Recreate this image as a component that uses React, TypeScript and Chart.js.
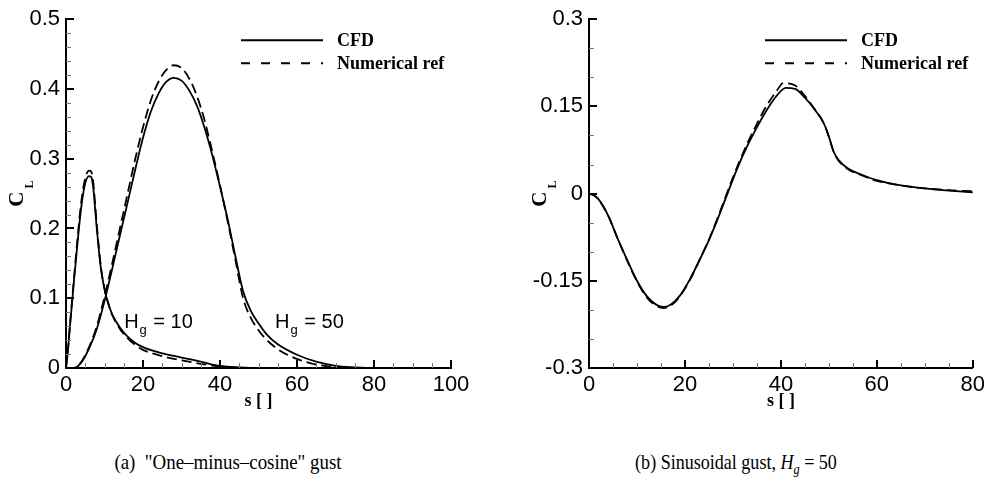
import React, { useEffect, useRef } from "react";
import { Chart, registerables } from "chart.js";

Chart.register(...registerables);

// ---------- Panel (a): "One-minus-cosine" gust ----------
const sH10Cfd = [0, 0.5, 1, 2, 3, 4, 5, 6, 6.5, 7, 8, 9, 10, 11, 12, 14, 16, 18, 20, 25, 30, 35, 38, 40, 45, 50, 60, 80, 100];
const clH10Cfd = [0, 0.025, 0.058, 0.12, 0.18, 0.232, 0.265, 0.275, 0.274, 0.262, 0.2, 0.145, 0.113, 0.092, 0.077, 0.058, 0.045, 0.036, 0.03, 0.021, 0.015, 0.009, 0.005, 0.003, 0.001, 0, 0, 0, 0];

const sH10Ref = [0, 0.5, 1, 2, 3, 4, 5, 6, 6.5, 7, 8, 9, 10, 11, 12, 14, 16, 18, 20, 25, 30, 35, 40, 45, 50, 60, 80, 100];
const clH10Ref = [0, 0.026, 0.06, 0.124, 0.186, 0.24, 0.272, 0.283, 0.282, 0.27, 0.205, 0.148, 0.114, 0.092, 0.076, 0.056, 0.043, 0.033, 0.026, 0.017, 0.011, 0.006, 0.002, 0, 0, 0, 0, 0];

const sH50Cfd = [0, 2, 4, 6, 8, 10, 12, 14, 16, 18, 20, 22, 24, 26, 28, 30, 32, 34, 36, 38, 40, 42, 44, 46, 48, 50, 52, 55, 60, 65, 70, 75, 80, 100];
const clH50Cfd = [0, 0, 0.008, 0.028, 0.056, 0.096, 0.142, 0.19, 0.237, 0.285, 0.33, 0.367, 0.393, 0.41, 0.416, 0.412, 0.398, 0.376, 0.344, 0.305, 0.26, 0.213, 0.16, 0.11, 0.082, 0.064, 0.049, 0.034, 0.019, 0.009, 0.003, 0.001, 0, 0];

const sH50Ref = [0, 2, 4, 6, 8, 10, 12, 14, 16, 18, 20, 22, 24, 26, 28, 30, 32, 34, 36, 38, 40, 42, 44, 46, 48, 50, 52, 55, 60, 65, 70, 75, 80, 100];
const clH50Ref = [0, 0, 0.009, 0.03, 0.06, 0.102, 0.15, 0.2, 0.25, 0.3, 0.345, 0.383, 0.41, 0.427, 0.434, 0.43, 0.415, 0.39, 0.355, 0.31, 0.262, 0.21, 0.155, 0.1, 0.072, 0.054, 0.041, 0.027, 0.013, 0.005, 0.001, 0, 0, 0];

const xTicksA = [0, 20, 40, 60, 80, 100];
const yTicksA = [0, 0.1, 0.2, 0.3, 0.4, 0.5];
const yTickLabelsA = ["0", "0.1", "0.2", "0.3", "0.4", "0.5"];

// ---------- Panel (b): Sinusoidal gust, Hg = 50 ----------
const sSinCfd = [0, 1, 2, 4, 6, 8, 10, 12, 14, 15.5, 17, 19, 21, 23, 25, 27, 29, 31, 33, 35, 37, 39, 41, 43, 45, 47, 49, 50, 51, 52, 54, 57, 60, 65, 70, 75, 80];
const clSinCfd = [0, -0.003, -0.01, -0.038, -0.078, -0.115, -0.15, -0.176, -0.191, -0.195, -0.191, -0.175, -0.148, -0.115, -0.08, -0.04, 0.003, 0.045, 0.082, 0.114, 0.143, 0.167, 0.182, 0.18, 0.165, 0.145, 0.12, 0.098, 0.072, 0.058, 0.043, 0.032, 0.023, 0.014, 0.009, 0.005, 0.002];

const sSinRef = [0, 1, 2, 4, 6, 8, 10, 12, 14, 15.5, 17, 19, 21, 23, 25, 27, 29, 31, 33, 35, 37, 39, 40.5, 43, 45, 47, 49, 50, 51, 52, 54, 57, 60, 65, 70, 75, 80];
const clSinRef = [0, -0.003, -0.01, -0.038, -0.078, -0.116, -0.151, -0.178, -0.193, -0.197, -0.193, -0.176, -0.149, -0.115, -0.079, -0.038, 0.006, 0.048, 0.086, 0.12, 0.151, 0.175, 0.19, 0.186, 0.168, 0.146, 0.12, 0.098, 0.072, 0.057, 0.042, 0.031, 0.022, 0.014, 0.009, 0.006, 0.004];

const xTicksB = [0, 20, 40, 60, 80];
const yTicksB = [-0.3, -0.15, 0, 0.15, 0.3];
const yTickLabelsB = ["-0.3", "-0.15", "0", "0.15", "0.3"];

// ---------- Shared text ----------
const legendLabels = ["CFD", "Numerical ref"];
const yTitleMain = "C";
const yTitleSub = "L";
const xTitle = "s [ ]";

const annotationsA = [
  { main: "H", sub: "g", rest: " = 10", s: 15.1, cl: 0.058 },
  { main: "H", sub: "g", rest: " = 50", s: 54.3, cl: 0.058 },
];

const SANS = "'Liberation Sans', Arial, sans-serif";
const SERIF = "'Liberation Serif', 'Times New Roman', serif";

const toPts = (xs: number[], ys: number[]) => xs.map((x, i) => ({ x, y: ys[i] }));

const decorPlugin = {
  id: "decor",
  afterDraw(chart: any, _args: any, opts: any) {
    const { ctx, chartArea: ca, scales } = chart;
    const xs = scales.x;
    const ys = scales.y;
    ctx.save();
    const line = (x1: number, y1: number, x2: number, y2: number, w: number, c: string) => {
      ctx.beginPath();
      ctx.lineWidth = w;
      ctx.strokeStyle = c;
      ctx.moveTo(x1, y1);
      ctx.lineTo(x2, y2);
      ctx.stroke();
    };
    // x ticks (inward)
    const nx = Math.round((xs.max - xs.min) / opts.xMinor);
    for (let i = 0; i <= nx; i++) {
      const v = xs.min + i * opts.xMinor;
      const major = opts.xMajor.some((m: number) => Math.abs(m - v) < 1e-6);
      const px = Math.round(xs.getPixelForValue(v)) + (major ? 0 : 0.5);
      line(px, ca.bottom, px, ca.bottom - (major ? 8 : 5), major ? 2 : 1, major ? "#000" : "#777");
    }
    const ny = Math.round((ys.max - ys.min) / opts.yMinor);
    for (let i = 0; i <= ny; i++) {
      const v = ys.min + i * opts.yMinor;
      const major = opts.yMajor.some((m: number) => Math.abs(m - v) < 1e-6);
      const py = Math.round(ys.getPixelForValue(v)) + (major ? 0 : 0.5);
      line(ca.left, py, ca.left + (major ? 8 : 5), py, major ? 2 : 1, major ? "#000" : "#777");
    }
    // legend
    const lx = ca.left + opts.legendDx;
    opts.legendItems.forEach((it: any, i: number) => {
      const ly = ca.top + 21 + i * 23;
      ctx.setLineDash(it.dash);
      line(lx, ly, lx + 82, ly, 2, "#000");
      ctx.setLineDash([]);
      ctx.fillStyle = "#000";
      ctx.font = `bold 18px ${SERIF}`;
      ctx.textBaseline = "middle";
      ctx.textAlign = "left";
      ctx.fillText(it.label, lx + 96, ly + 1);
    });
    // y title C_L (rotated)
    ctx.font = `bold 21px ${SERIF}`;
    const wC = ctx.measureText(opts.yTitle).width;
    ctx.font = `bold 12px ${SERIF}`;
    const wL = ctx.measureText(opts.yTitleSub).width;
    const total = wC + 3 + wL;
    const cy = (ca.top + ca.bottom) / 2 + total / 2;
    ctx.save();
    ctx.translate(ca.left - 43, cy);
    ctx.rotate(-Math.PI / 2);
    ctx.textBaseline = "alphabetic";
    ctx.textAlign = "left";
    ctx.fillStyle = "#000";
    ctx.font = `bold 21px ${SERIF}`;
    ctx.fillText(opts.yTitle, 0, 0);
    ctx.font = `bold 12px ${SERIF}`;
    ctx.fillText(opts.yTitleSub, wC + 3, 10);
    ctx.restore();
    // annotations
    (opts.annotations || []).forEach((a: any) => {
      const px = xs.getPixelForValue(a.s);
      const py = ys.getPixelForValue(a.cl);
      ctx.fillStyle = "#000";
      ctx.textBaseline = "alphabetic";
      ctx.textAlign = "left";
      ctx.font = `20px ${SANS}`;
      ctx.fillText(a.main, px, py);
      const w1 = ctx.measureText(a.main).width;
      ctx.font = `13px ${SANS}`;
      ctx.fillText(a.sub, px + w1 + 1, py + 6);
      const w2 = ctx.measureText(a.sub).width;
      ctx.font = `20px ${SANS}`;
      ctx.fillText(a.rest, px + w1 + w2 + 2, py);
    });
    ctx.restore();
  },
};

function makeConfig(p: {
  datasets: any[];
  xMax: number;
  yMin: number;
  yMax: number;
  xTicks: number[];
  yTicks: number[];
  yLabels: string[];
  yAxisWidth: number;
  padRight: number;
  xMinor: number;
  yMinor: number;
  legendDx: number;
  annotations?: any[];
}) {
  return {
    type: "line",
    data: { datasets: p.datasets },
    plugins: [decorPlugin],
    options: {
      responsive: false,
      animation: false,
      events: [],
      layout: { padding: { top: 16, right: p.padRight, left: 0, bottom: 0 } },
      elements: { point: { radius: 0 }, line: { cubicInterpolationMode: "monotone" } },
      plugins: {
        legend: { display: false },
        tooltip: { enabled: false },
        decor: {
          xMinor: p.xMinor,
          yMinor: p.yMinor,
          xMajor: p.xTicks,
          yMajor: p.yTicks,
          legendDx: p.legendDx,
          legendItems: [
            { label: legendLabels[0], dash: [] },
            { label: legendLabels[1], dash: [9, 11] },
          ],
          yTitle: yTitleMain,
          yTitleSub: yTitleSub,
          annotations: p.annotations,
        },
      },
      scales: {
        x: {
          type: "linear",
          min: 0,
          max: p.xMax,
          grid: { display: false, drawTicks: false },
          border: { display: true, color: "#000", width: 2 },
          afterBuildTicks: (s: any) => {
            s.ticks = p.xTicks.map((v) => ({ value: v }));
          },
          afterFit: (s: any) => {
            s.height = 52;
          },
          ticks: {
            autoSkip: false,
            maxRotation: 0,
            padding: 4,
            color: "#000",
            font: { family: SANS, size: 22 },
            callback: (v: any) => String(v),
          },
          title: {
            display: true,
            text: xTitle,
            color: "#000",
            font: { family: SERIF, size: 18, weight: "bold" },
            padding: { top: 0, bottom: 8 },
          },
        },
        y: {
          type: "linear",
          min: p.yMin,
          max: p.yMax,
          grid: { display: false, drawTicks: false },
          border: { display: true, color: "#000", width: 2 },
          afterBuildTicks: (s: any) => {
            s.ticks = p.yTicks.map((v) => ({ value: v }));
          },
          afterFit: (s: any) => {
            s.width = p.yAxisWidth;
          },
          ticks: {
            autoSkip: false,
            padding: 6,
            color: "#000",
            font: { family: SANS, size: 22 },
            callback: (_v: any, i: number) => p.yLabels[i],
          },
        },
      },
    },
  };
}

function lineDs(xs: number[], ys: number[], dashed: boolean) {
  return {
    data: toPts(xs, ys),
    borderColor: "#000",
    borderWidth: 1.8,
    borderDash: dashed ? [10, 5] : [],
    pointRadius: 0,
    fill: false,
    clip: 4,
  };
}

function ChartCanvas({ config, width, height, left }: { config: any; width: number; height: number; left: number }) {
  const ref = useRef<HTMLCanvasElement | null>(null);
  useEffect(() => {
    if (!ref.current) return;
    const chart = new Chart(ref.current, config);
    return () => chart.destroy();
  }, [config]);
  return (
    <canvas
      ref={ref}
      width={width}
      height={height}
      style={{ position: "absolute", left, top: 0, width, height, display: "block" }}
    />
  );
}

const configA = makeConfig({
  datasets: [
    lineDs(sH10Cfd, clH10Cfd, false),
    lineDs(sH50Cfd, clH50Cfd, false),
    lineDs(sH10Ref, clH10Ref, true),
    lineDs(sH50Ref, clH50Ref, true),
  ],
  xMax: 100,
  yMin: 0,
  yMax: 0.5,
  xTicks: xTicksA,
  yTicks: yTicksA,
  yLabels: yTickLabelsA,
  yAxisWidth: 66,
  padRight: 29,
  xMinor: 5,
  yMinor: 0.02,
  legendDx: 175,
  annotations: annotationsA,
});

const configB = makeConfig({
  datasets: [lineDs(sSinCfd, clSinCfd, false), lineDs(sSinRef, clSinRef, true)],
  xMax: 80,
  yMin: -0.3,
  yMax: 0.3,
  xTicks: xTicksB,
  yTicks: yTicksB,
  yLabels: yTickLabelsB,
  yAxisWidth: 89,
  padRight: 16,
  xMinor: 5,
  yMinor: 0.05,
  legendDx: 176,
});

const captionStyle: React.CSSProperties = {
  position: "absolute",
  top: 450,
  width: 360,
  textAlign: "center",
  fontFamily: SERIF,
  fontSize: 22,
  lineHeight: "24px",
  whiteSpace: "nowrap",
  color: "#000",
};

export default function App() {
  return (
    <div style={{ position: "absolute", left: 0, top: 0, width: 989, height: 484, background: "#fff", overflow: "hidden" }}>
      <ChartCanvas config={configA} width={480} height={420} left={0} />
      <ChartCanvas config={configB} width={489} height={420} left={500} />
      <div style={{ ...captionStyle, left: 228 - 180, transform: "scaleX(0.86)" }}>
        (a)&nbsp; "One–minus–cosine" gust
      </div>
      <div style={{ ...captionStyle, left: 736 - 180, transform: "scaleX(0.82)" }}>
        (b) Sinusoidal gust, <i>H</i>
        <sub style={{ fontSize: 15, lineHeight: 0 }}>
          <i>g</i>
        </sub>
        &nbsp;= 50
      </div>
    </div>
  );
}
